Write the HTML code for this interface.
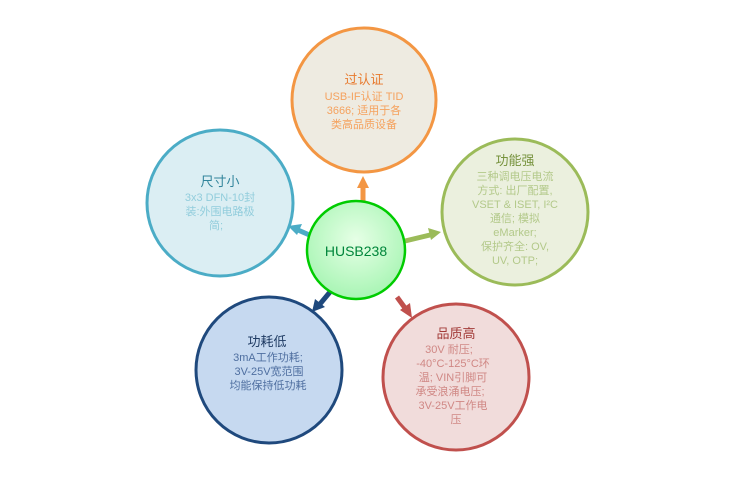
<!DOCTYPE html>
<html><head><meta charset="utf-8"><style>
body{margin:0;background:#fff;width:737px;height:476px;overflow:hidden}
svg text{font-family:"Liberation Sans","Noto Sans CJK SC",sans-serif;text-anchor:middle}
</style></head><body>
<svg width="737" height="476" viewBox="0 0 737 476">
<defs>
<radialGradient id="g" cx="50%" cy="40%" r="60%"><stop offset="0" stop-color="#e6ffe6"/><stop offset="1" stop-color="#a8f5b4"/></radialGradient>
</defs>
<circle cx="364" cy="100" r="72" fill="#eeebe1" stroke="#f39643" stroke-width="3"/>
<circle cx="515" cy="212" r="73" fill="#ebf0de" stroke="#9bbb59" stroke-width="3"/>
<circle cx="456" cy="377" r="73" fill="#f1dcdb" stroke="#c0504d" stroke-width="3"/>
<circle cx="269" cy="370" r="73" fill="#c6d9f0" stroke="#1f497d" stroke-width="3"/>
<circle cx="220" cy="203" r="73" fill="#dbeef3" stroke="#4bacc6" stroke-width="3"/>
<!-- arrows -->
<g stroke-width="5" fill="none">
<line x1="363" y1="201" x2="363" y2="186" stroke="#f39643"/>
<line x1="314" y1="237" x2="298" y2="230" stroke="#4bacc6"/>
<line x1="405" y1="241" x2="430" y2="235" stroke="#9bbb59"/>
<line x1="397" y1="297" x2="405" y2="308" stroke="#c0504d"/>
<line x1="330" y1="292" x2="320" y2="304" stroke="#1f497d"/>
</g>
<polygon points="363,176 357,188 369,188" fill="#f39643"/>
<polygon points="288,226 302,224 297,235" fill="#4bacc6"/>
<polygon points="441,232 428,228 431,240" fill="#9bbb59"/>
<polygon points="412,318 400,310 410,303" fill="#c0504d"/>
<polygon points="312,312 315,299 325,307" fill="#1f497d"/>
<circle cx="356" cy="250" r="49" fill="url(#g)" stroke="#00cc00" stroke-width="2.5"/>
<text x="356" y="256" font-size="14" fill="#00863b">HUSB238</text>
<g font-size="13" fill="#e87a2e"><text x="364" y="84">过认证</text></g>
<g font-size="11" fill="#f5a25e"><text x="364" y="100">USB-IF认证 TID</text><text x="364" y="114">3666; 适用于各</text><text x="364" y="128">类高品质设备</text></g>
<text x="515" y="165" font-size="13" fill="#76923c">功能强</text>
<g font-size="11" fill="#b3c98a"><text x="515" y="180">三种调电压电流</text><text x="515" y="194">方式: 出厂配置,</text><text x="515" y="208">VSET &amp; ISET, I²C</text><text x="515" y="222">通信; 模拟</text><text x="515" y="236">eMarker;</text><text x="515" y="250">保护齐全: OV,</text><text x="515" y="264">UV, OTP;</text></g>
<text x="456" y="338" font-size="13" fill="#a23b38">品质高</text>
<g font-size="11" fill="#d08885"><text x="449" y="353">30V 耐压;</text><text x="453" y="367">-40°C-125°C环</text><text x="453" y="381">温; VIN引脚可</text><text x="450" y="395">承受浪涌电压;</text><text x="453" y="409">3V-25V工作电</text><text x="456" y="423">压</text></g>
<text x="267" y="346" font-size="13" fill="#1f3b63"><tspan>功耗低</tspan></text>
<g font-size="11" fill="#4f6fa0"><text x="268" y="361">3mA工作功耗;</text><text x="269" y="375">3V-25V宽范围</text><text x="268" y="389">均能保持低功耗</text></g>
<text x="220" y="186" font-size="13" fill="#31849b">尺寸小</text>
<g font-size="11" fill="#92cddc"><text x="220" y="201">3x3 DFN-10封</text><text x="220" y="215">装:外围电路极</text><text x="216" y="229">简;</text></g>
</svg>
</body></html>
